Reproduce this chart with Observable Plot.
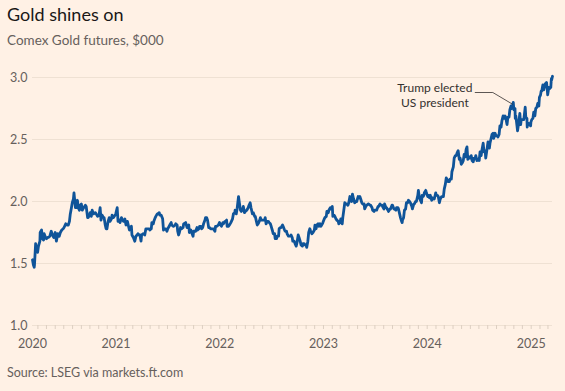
<!DOCTYPE html>
<html>
<head>
<meta charset="utf-8">
<script src="https://cdn.jsdelivr.net/npm/d3@7"></script>
<script src="https://cdn.jsdelivr.net/npm/@observablehq/plot@0.6"></script>
<style>
  html, body { margin: 0; padding: 0; background: #fff1e5; }
  body { width: 565px; height: 391px; overflow: hidden; font-family: Lato, "Noto Sans", sans-serif; position: relative; }
  #title { position: absolute; left: 7px; top: 1px; font-size: 18px; color: #1a1817; line-height: 26px; }
  #subtitle { position: absolute; left: 7px; top: 31px; font-size: 13.5px; color: #66605c; line-height: 18px; }
  #chart { position: absolute; left: 0; top: 55px; }
  #source { position: absolute; left: 7px; top: 364px; font-size: 12.5px; color: #66605c; line-height: 18px; }
</style>
</head>
<body>
<div id="title">Gold shines on</div>
<div id="subtitle">Comex Gold futures, $000</div>
<div id="chart"></div>
<div id="source">Source: LSEG via markets.ft.com</div>
<script>
// ---- data ----
const dates = [
"2020-03-13","2020-03-16","2020-03-19","2020-03-20","2020-03-24","2020-03-27","2020-03-31","2020-04-03","2020-04-08","2020-04-09","2020-04-14","2020-04-17","2020-04-21","2020-04-23","2020-04-28","2020-05-01","2020-05-05","2020-05-08","2020-05-13","2020-05-18","2020-05-22","2020-05-27","2020-06-01","2020-06-05","2020-06-10","2020-06-15","2020-06-19","2020-06-24","2020-06-29","2020-07-02","2020-07-08","2020-07-14","2020-07-17","2020-07-21","2020-07-24","2020-07-28","2020-07-31","2020-08-04","2020-08-06","2020-08-11","2020-08-14","2020-08-18","2020-08-21","2020-08-25","2020-08-28","2020-09-01","2020-09-04","2020-09-09","2020-09-15","2020-09-18","2020-09-23","2020-09-25","2020-09-30","2020-10-02","2020-10-06","2020-10-09","2020-10-14","2020-10-20","2020-10-23","2020-10-28","2020-11-02","2020-11-06","2020-11-09","2020-11-13","2020-11-18","2020-11-20","2020-11-24","2020-11-27","2020-11-30","2020-12-04","2020-12-08","2020-12-11","2020-12-16","2020-12-18","2020-12-23","2020-12-31",
"2021-01-05","2021-01-08","2021-01-12","2021-01-15","2021-01-20","2021-01-22","2021-01-27","2021-02-01","2021-02-05","2021-02-10","2021-02-12","2021-02-17","2021-02-19","2021-02-24","2021-02-26","2021-03-03","2021-03-08","2021-03-12","2021-03-16","2021-03-19","2021-03-23","2021-03-26","2021-03-30","2021-04-01","2021-04-07","2021-04-12","2021-04-16","2021-04-20","2021-04-23","2021-04-28","2021-04-30","2021-05-05","2021-05-07","2021-05-12","2021-05-14","2021-05-19","2021-05-21","2021-05-26","2021-05-28","2021-06-02","2021-06-04","2021-06-09","2021-06-14","2021-06-17","2021-06-21","2021-06-25","2021-06-29","2021-07-02","2021-07-07","2021-07-09","2021-07-14","2021-07-16","2021-07-21","2021-07-23","2021-07-28","2021-07-30","2021-08-04","2021-08-06","2021-08-09","2021-08-12","2021-08-16","2021-08-20","2021-08-25","2021-08-27","2021-09-03","2021-09-08","2021-09-10","2021-09-14","2021-09-16","2021-09-21","2021-09-24","2021-09-29","2021-10-01","2021-10-06","2021-10-08","2021-10-13","2021-10-15","2021-10-20","2021-10-22","2021-10-27","2021-10-29","2021-11-02","2021-11-05","2021-11-10","2021-11-12","2021-11-16","2021-11-19","2021-11-23","2021-11-26","2021-11-30","2021-12-03","2021-12-08","2021-12-10","2021-12-15","2021-12-17","2021-12-22","2021-12-27","2021-12-31",
"2022-01-04","2022-01-07","2022-01-12","2022-01-14","2022-01-19","2022-01-21","2022-01-25","2022-01-27","2022-02-01","2022-02-04","2022-02-09","2022-02-11","2022-02-15","2022-02-18","2022-02-23","2022-02-24","2022-02-28","2022-03-03","2022-03-08","2022-03-11","2022-03-15","2022-03-18","2022-03-23","2022-03-25","2022-03-29","2022-04-01","2022-04-06","2022-04-11","2022-04-14","2022-04-18","2022-04-21","2022-04-26","2022-04-29","2022-05-04","2022-05-06","2022-05-10","2022-05-13","2022-05-16","2022-05-20","2022-05-24","2022-05-27","2022-06-01","2022-06-03","2022-06-08","2022-06-10","2022-06-13","2022-06-17","2022-06-21","2022-06-24","2022-06-28","2022-07-01","2022-07-06","2022-07-08","2022-07-13","2022-07-15","2022-07-20","2022-07-22","2022-07-27","2022-07-29","2022-08-02","2022-08-05","2022-08-10","2022-08-12","2022-08-17","2022-08-19","2022-08-24","2022-08-26","2022-08-31","2022-09-02","2022-09-07","2022-09-09","2022-09-13","2022-09-15","2022-09-20","2022-09-23","2022-09-27","2022-09-30","2022-10-04","2022-10-07","2022-10-11","2022-10-14","2022-10-19","2022-10-21","2022-10-25","2022-10-28","2022-11-01","2022-11-03","2022-11-07","2022-11-10","2022-11-14","2022-11-17","2022-11-21","2022-11-25","2022-11-30","2022-12-02","2022-12-06","2022-12-09","2022-12-13","2022-12-16","2022-12-20","2022-12-23","2022-12-28","2022-12-30",
"2023-01-04","2023-01-06","2023-01-11","2023-01-13","2023-01-18","2023-01-20","2023-01-25","2023-01-27","2023-02-01","2023-02-03","2023-02-07","2023-02-10","2023-02-14","2023-02-17","2023-02-22","2023-02-24","2023-02-28","2023-03-03","2023-03-08","2023-03-10","2023-03-13","2023-03-17","2023-03-20","2023-03-24","2023-03-28","2023-03-31","2023-04-04","2023-04-06","2023-04-10","2023-04-13","2023-04-17","2023-04-21","2023-04-25","2023-04-28","2023-05-03","2023-05-05","2023-05-09","2023-05-12","2023-05-16","2023-05-19","2023-05-24","2023-05-26","2023-05-30","2023-06-02","2023-06-07","2023-06-09","2023-06-14","2023-06-16","2023-06-21","2023-06-23","2023-06-28","2023-06-30","2023-07-05","2023-07-07","2023-07-12","2023-07-14","2023-07-19","2023-07-21","2023-07-26","2023-07-28","2023-08-02","2023-08-04","2023-08-09","2023-08-11","2023-08-16","2023-08-18","2023-08-23","2023-08-25","2023-08-30","2023-09-01","2023-09-06","2023-09-08","2023-09-13","2023-09-15","2023-09-20","2023-09-22","2023-09-27","2023-09-29","2023-10-03","2023-10-05","2023-10-06","2023-10-10","2023-10-13","2023-10-17","2023-10-20","2023-10-24","2023-10-27","2023-10-31","2023-11-03","2023-11-08","2023-11-10","2023-11-15","2023-11-17","2023-11-21","2023-11-24","2023-11-29","2023-12-01","2023-12-04","2023-12-08","2023-12-12","2023-12-14","2023-12-18","2023-12-20","2023-12-22","2023-12-27","2023-12-29",
"2024-01-03","2024-01-05","2024-01-09","2024-01-12","2024-01-17","2024-01-19","2024-01-24","2024-01-26","2024-01-31","2024-02-02","2024-02-06","2024-02-09","2024-02-13","2024-02-16","2024-02-21","2024-02-23","2024-02-27","2024-03-01","2024-03-05","2024-03-08","2024-03-12","2024-03-15","2024-03-19","2024-03-21","2024-03-26","2024-03-28","2024-04-02","2024-04-05","2024-04-09","2024-04-12","2024-04-15","2024-04-19","2024-04-23","2024-04-26","2024-04-30","2024-05-03","2024-05-07","2024-05-10","2024-05-14","2024-05-17","2024-05-20","2024-05-23","2024-05-28","2024-05-31","2024-06-04","2024-06-07","2024-06-11","2024-06-14","2024-06-18","2024-06-20","2024-06-24","2024-06-28","2024-07-02","2024-07-05","2024-07-09","2024-07-12","2024-07-16","2024-07-19","2024-07-23","2024-07-25","2024-07-30","2024-08-02","2024-08-07","2024-08-09","2024-08-13","2024-08-16","2024-08-20","2024-08-22","2024-08-27","2024-08-30","2024-09-04","2024-09-06","2024-09-10","2024-09-13","2024-09-17","2024-09-20","2024-09-24","2024-09-27","2024-10-01","2024-10-04","2024-10-08","2024-10-11","2024-10-15","2024-10-18","2024-10-22","2024-10-25","2024-10-30","2024-11-01","2024-11-05","2024-11-06","2024-11-08","2024-11-12","2024-11-14","2024-11-18","2024-11-22","2024-11-25","2024-11-27","2024-11-29","2024-12-03","2024-12-06","2024-12-11","2024-12-13","2024-12-17","2024-12-18","2024-12-20","2024-12-24","2024-12-27","2024-12-30","2024-12-31",
"2025-01-03","2025-01-07","2025-01-10","2025-01-14","2025-01-17","2025-01-21","2025-01-24","2025-01-28","2025-01-30","2025-02-03","2025-02-05","2025-02-07","2025-02-11","2025-02-14","2025-02-18","2025-02-20","2025-02-24","2025-02-27","2025-02-28","2025-03-04","2025-03-07","2025-03-11","2025-03-13","2025-03-14","2025-03-17"
];
const prices = [
1.53,1.49,1.47,1.49,1.66,1.62,1.59,1.64,1.68,1.75,1.77,1.70,1.69,1.74,1.71,1.70,1.71,1.71,1.72,1.76,1.73,1.71,1.75,1.68,1.74,1.72,1.75,1.77,1.78,1.79,1.82,1.81,1.81,1.84,1.90,1.95,1.99,2.02,2.07,1.95,1.95,2.01,1.95,1.93,1.97,1.98,1.93,1.95,1.97,1.96,1.87,1.87,1.89,1.91,1.88,1.93,1.90,1.91,1.90,1.88,1.89,1.95,1.85,1.89,1.87,1.87,1.81,1.78,1.78,1.84,1.87,1.84,1.86,1.89,1.87,1.90,
1.95,1.84,1.85,1.83,1.87,1.86,1.84,1.86,1.81,1.84,1.82,1.77,1.78,1.80,1.73,1.71,1.68,1.72,1.73,1.74,1.73,1.73,1.68,1.73,1.74,1.73,1.78,1.78,1.78,1.78,1.77,1.78,1.83,1.82,1.84,1.87,1.88,1.90,1.90,1.91,1.89,1.89,1.86,1.77,1.78,1.78,1.76,1.78,1.80,1.81,1.83,1.81,1.80,1.80,1.81,1.82,1.81,1.76,1.73,1.75,1.79,1.78,1.79,1.82,1.83,1.79,1.79,1.81,1.75,1.77,1.75,1.72,1.76,1.76,1.76,1.79,1.77,1.78,1.80,1.80,1.78,1.79,1.82,1.85,1.87,1.87,1.85,1.79,1.79,1.78,1.78,1.78,1.78,1.76,1.80,1.80,1.81,1.83,
1.81,1.80,1.83,1.82,1.84,1.84,1.85,1.80,1.80,1.81,1.83,1.84,1.86,1.90,1.91,1.93,1.90,1.94,2.04,1.99,1.93,1.92,1.94,1.96,1.91,1.92,1.93,1.95,1.97,1.99,1.95,1.90,1.91,1.88,1.88,1.84,1.81,1.82,1.84,1.87,1.85,1.85,1.85,1.85,1.87,1.82,1.84,1.84,1.83,1.82,1.80,1.76,1.74,1.74,1.70,1.70,1.72,1.72,1.78,1.79,1.79,1.81,1.80,1.77,1.76,1.76,1.74,1.72,1.72,1.72,1.73,1.71,1.68,1.68,1.66,1.64,1.67,1.73,1.71,1.68,1.65,1.64,1.66,1.66,1.65,1.65,1.63,1.68,1.75,1.78,1.76,1.74,1.75,1.77,1.81,1.78,1.81,1.82,1.80,1.82,1.80,1.82,1.83,
1.86,1.87,1.88,1.92,1.91,1.93,1.95,1.94,1.96,1.88,1.89,1.88,1.86,1.85,1.84,1.82,1.83,1.86,1.82,1.87,1.92,1.99,1.98,1.98,1.97,1.99,2.04,2.03,2.00,2.06,2.02,1.99,2.00,2.00,2.04,2.03,2.04,2.02,1.99,1.98,1.98,1.94,1.96,1.97,1.98,1.98,1.97,1.97,1.95,1.93,1.92,1.93,1.93,1.93,1.96,1.96,1.98,1.97,1.97,1.96,1.94,1.98,1.95,1.95,1.93,1.92,1.94,1.94,1.97,1.97,1.94,1.94,1.93,1.95,1.95,1.94,1.89,1.87,1.84,1.83,1.85,1.87,1.93,1.94,1.99,1.99,2.01,2.00,1.99,1.96,1.94,1.98,1.98,2.00,2.00,2.05,2.09,2.04,2.01,1.99,2.05,2.04,2.05,2.07,2.09,2.07,
2.04,2.05,2.03,2.05,2.01,2.03,2.02,2.02,2.07,2.05,2.05,2.04,1.99,2.02,2.04,2.04,2.04,2.10,2.14,2.19,2.17,2.16,2.16,2.18,2.18,2.24,2.28,2.35,2.37,2.37,2.39,2.41,2.34,2.35,2.30,2.31,2.33,2.38,2.36,2.42,2.44,2.34,2.36,2.35,2.37,2.33,2.32,2.35,2.35,2.37,2.33,2.34,2.33,2.40,2.37,2.42,2.47,2.40,2.41,2.35,2.43,2.48,2.43,2.47,2.51,2.54,2.55,2.51,2.55,2.53,2.53,2.52,2.54,2.61,2.60,2.65,2.69,2.67,2.69,2.67,2.62,2.68,2.68,2.74,2.77,2.75,2.80,2.74,2.75,2.67,2.69,2.61,2.57,2.63,2.71,2.62,2.66,2.66,2.66,2.66,2.76,2.68,2.67,2.60,2.63,2.63,2.62,2.61,2.64,
2.66,2.67,2.72,2.69,2.75,2.76,2.79,2.77,2.84,2.86,2.89,2.89,2.94,2.90,2.94,2.95,2.96,2.89,2.86,2.92,2.91,2.92,2.99,2.98,3.01
];
const yTicks = [1.0, 1.5, 2.0, 2.5, 3.0];
const yearLabels = ["2020", "2021", "2022", "2023", "2024", "2025"];
const annotationLines = ["Trump elected", "US president"];
// annotation anchor (text centres), leader elbow and leader tip, in data terms
const annoTextDate = "2024-01-28";
const annoLineValues = [2.918, 2.797];
const annoLeaderDates = ["2024-06-18", "2024-08-19", "2024-10-27"];
const annoLeaderValues = [2.879, 2.879, 2.785];

// ---- build ----
const parse = d3.utcParse("%Y-%m-%d");
const series = dates.map((d, i) => ({date: parse(d), value: prices[i]}));
const start = series[0].date, end = series[series.length - 1].date;
const months = d3.utcMonth.range(d3.utcMonth.ceil(start), end);
const yearPos = yearLabels.map(y => {
  const d = parse(y + "-01-01");
  return {label: y, date: d < start ? start : d};
});
const leader = annoLeaderDates.map((d, i) => ({date: parse(d), value: annoLeaderValues[i]}));
const annoText = annotationLines.map((t, i) => ({text: t, date: parse(annoTextDate), value: annoLineValues[i]}));

const blue = "#0f5499", grey = "#66605c", grid = "#efe1d3", tick = "#ddcfc2";

const chart = Plot.plot({
  width: 565,
  height: 300,
  marginLeft: 32,
  marginRight: 13,
  marginTop: 22,
  marginBottom: 30,
  style: {background: "transparent", fontFamily: "Lato, 'Noto Sans', sans-serif", fontSize: "12.5px", color: grey},
  x: {type: "utc", domain: [start, end]},
  y: {domain: [1, 3]},
  marks: [
    Plot.ruleY(yTicks, {stroke: grid, strokeWidth: 1}),
    Plot.axisY({ticks: yTicks, tickSize: 0, tickPadding: 5, tickFormat: d3.format(".1f"), label: null, fill: grey, fontSize: 12.5}),
    Plot.axisX({ticks: months, tickSize: 4, tickFormat: () => "", stroke: tick, label: null}),
    Plot.text(yearPos, {x: "date", y: () => 1, text: "label", dy: 18, fill: grey, fontSize: 12.5}),
    Plot.line(series, {x: "date", y: "value", stroke: blue, strokeWidth: 2.8, strokeLinejoin: "round", strokeLinecap: "round"}),
    Plot.line(leader, {x: "date", y: "value", stroke: "#33302e", strokeWidth: 0.8}),
    Plot.text(annoText, {x: "date", y: "value", text: "text", fill: "#33302e", fontSize: 12, textAnchor: "middle"})
  ]
});
document.getElementById("chart").appendChild(chart);
</script>
</body>
</html>
